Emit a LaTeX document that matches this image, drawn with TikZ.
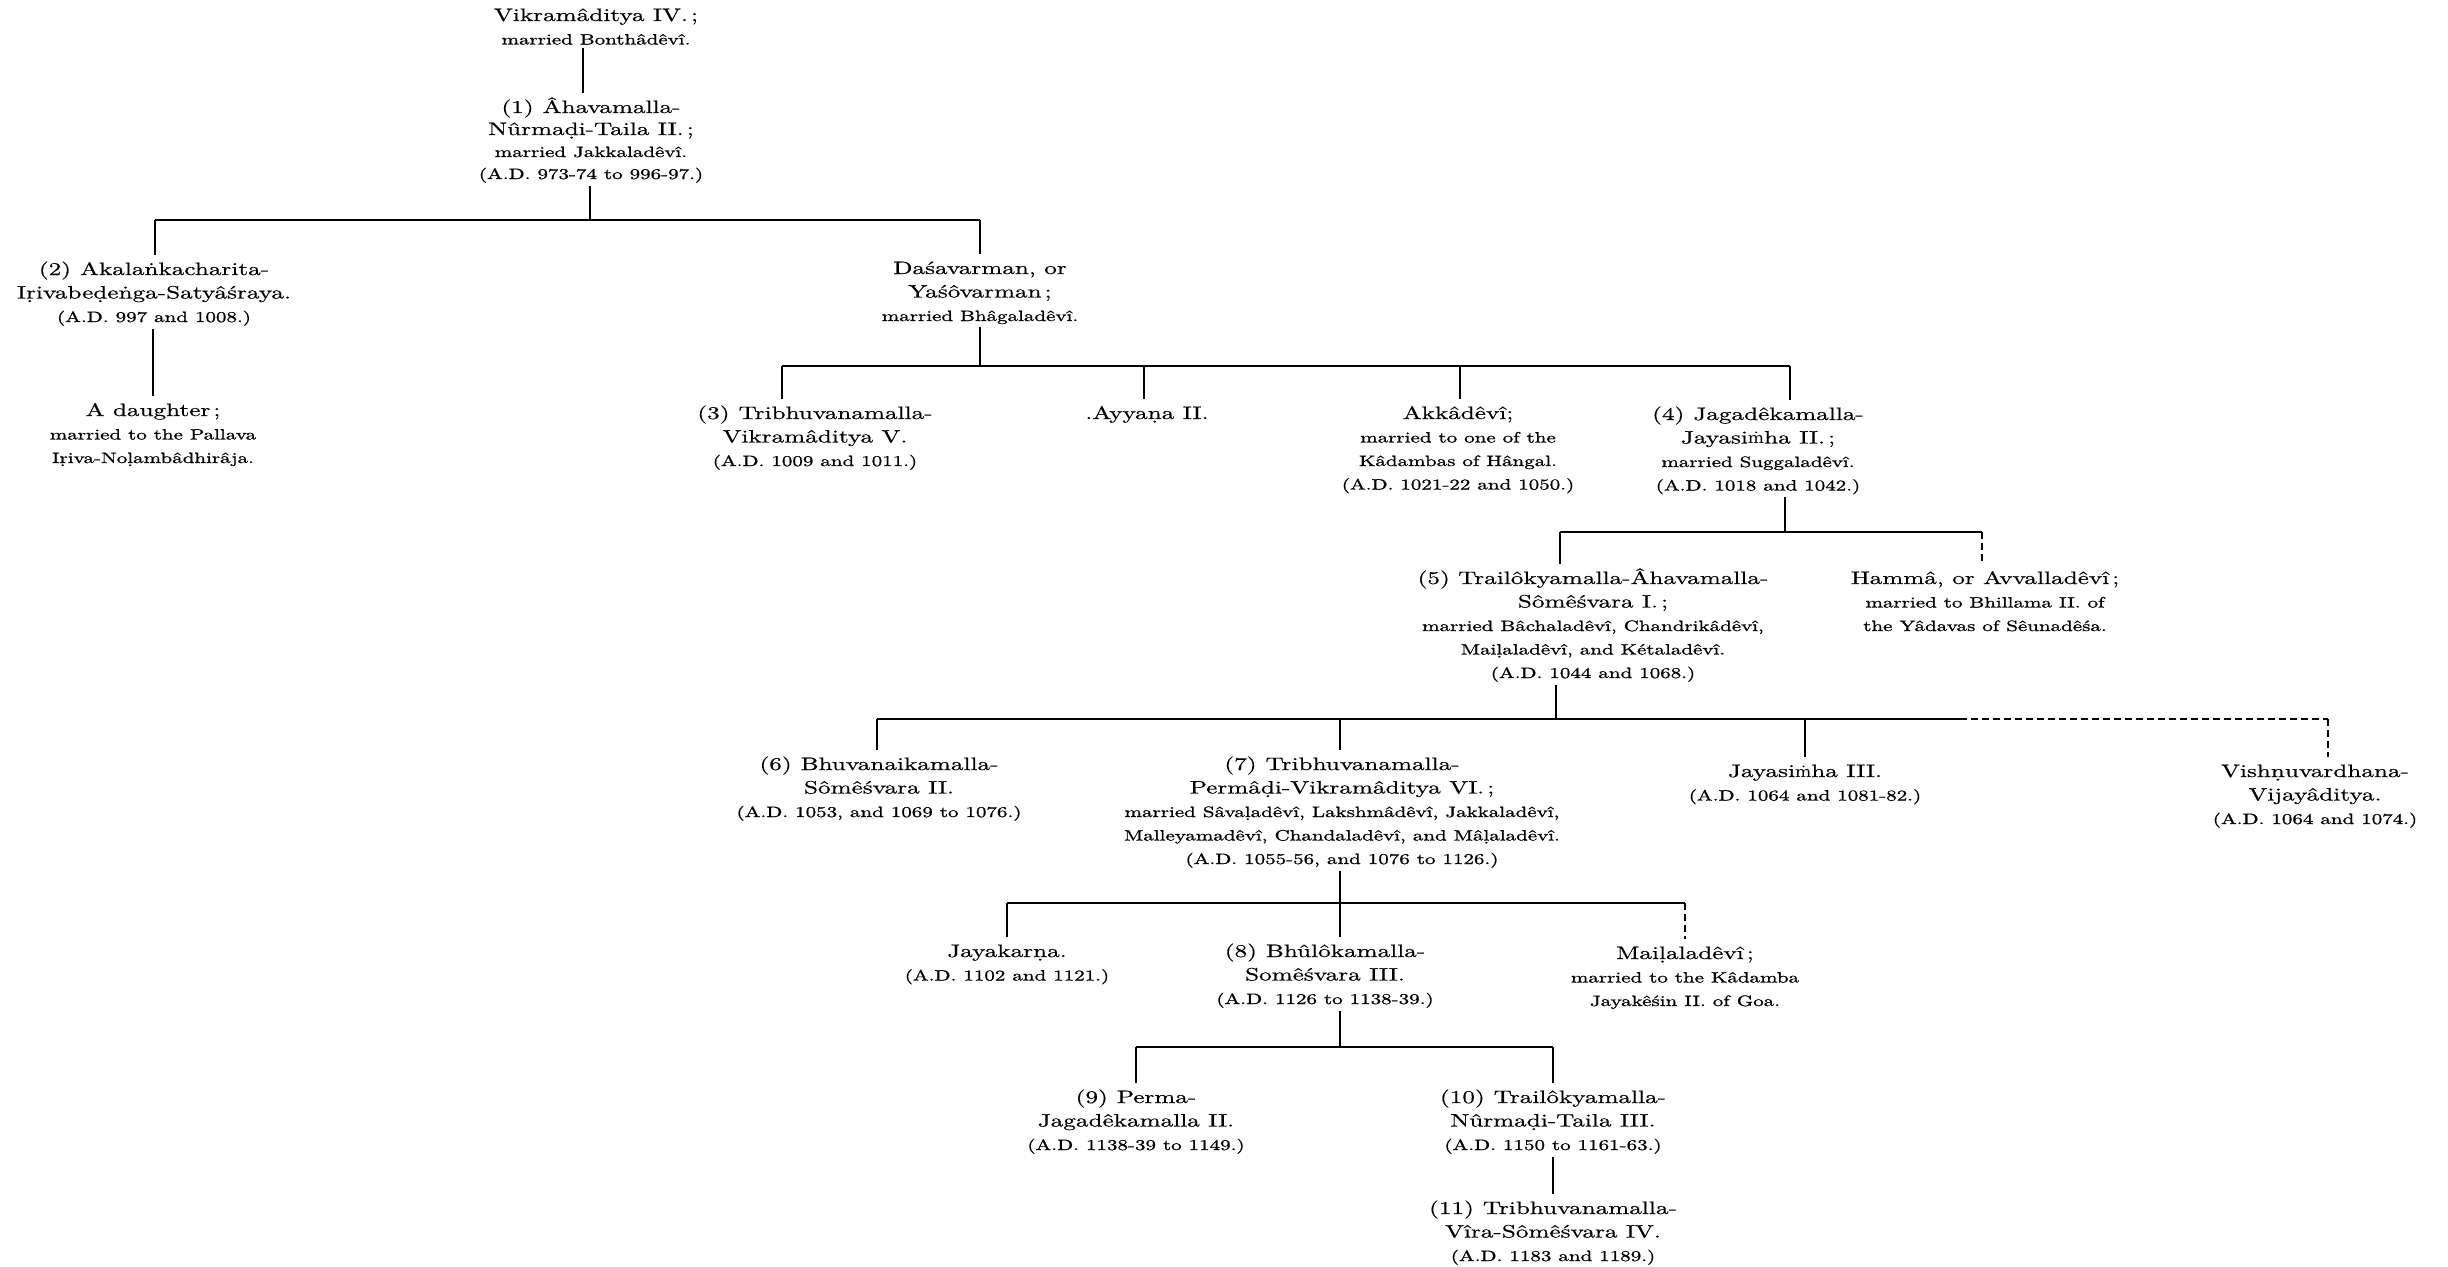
\documentclass[tikz,border=0pt]{standalone}
\usepackage{fontspec}
\setmainfont{lmroman10-regular.otf}[FakeStretch=1.4, FakeBold=0.5]
\newfontfamily\smfam{lmroman10-regular.otf}[FakeStretch=1.4, FakeBold=1.1]
\newfontfamily\dvfam{DejaVu Serif}[Scale=0.83, FakeStretch=1.15]
\newcommand\sm{\smfam\fontsize{15}{23.5}\selectfont}
\newcommand\mdot{{\dvfam ṁ}}
\newcommand\fst{\rule{0pt}{17pt}}
\tikzset{
  person/.style={align=center, inner sep=0pt, outer sep=3pt, anchor=north,
    font=\fontsize{18}{23.5}\selectfont},
  link/.style={line width=1.7pt, line cap=butt},
  faint/.style={line width=1.1pt, dash pattern=on 7pt off 4pt}
}
\begin{document}
\begin{tikzpicture}[x=1pt,y=-1pt]
\useasboundingbox (0,0) rectangle (2448,1266);
\fill[white] (0,0) rectangle (2448,1266);

% ---- persons ----
\node[person] (v4) at (596,1) {\fst Vikramâditya IV.\,;\\ {\sm married Bonthâdêvî.}};
\node[person, font=\fontsize{18}{22}\selectfont] (t1) at (591,93) {\fst (1)\enspace Âhavamalla-\\ Nûrmaḍi-Taila II.\,;\\ {\sm married Jakkaladêvî.}\\ {\sm (A.D. 973-74 to 996-97.)}};
\node[person] (n2) at (154,255) {\fst (2)\enspace Akalaṅkacharita-\\ Iṛivabeḍeṅga-Satyâśraya.\\ {\sm (A.D. 997 and 1008.)}};
\node[person] (dau) at (153,396) {\fst A daughter\,;\\ {\sm married to the Pallava}\\ {\sm Iṛiva-Noḷambâdhirâja.}};
\node[person] (das) at (980,254) {\fst Daśavarman, or\\ Yaśôvarman\,;\\ {\sm married Bhâgaladêvî.}};
\node[person] (n3) at (815,399) {\fst (3)\enspace Tribhuvanamalla-\\ Vikramâditya V.\\ {\sm (A.D. 1009 and 1011.)}};
\node[person] (ayy) at (1147,399) {\fst .Ayyaṇa II.};
\node[person] (akk) at (1458,399) {\fst Akkâdêvî;\\ {\sm married to one of the}\\ {\sm Kâdambas of Hângal.}\\ {\sm (A.D. 1021-22 and 1050.)}};
\node[person] (n4) at (1758,400) {\fst (4)\enspace Jagadêkamalla-\\ Jayasi\mdot ha II.\,;\\ {\sm married Suggaladêvî.}\\ {\sm (A.D. 1018 and 1042.)}};
\node[person] (n5) at (1593,564) {\fst (5) Trailôkyamalla-Âhavamalla-\\ Sômêśvara I.\,;\\ {\sm married Bâchaladêvî, Chandrikâdêvî,}\\ {\sm Maiḷaladêvî, and Kétaladêvî.}\\ {\sm (A.D. 1044 and 1068.)}};
\node[person] (ham) at (1985,564) {\fst Hammâ, or Avvalladêvî\,;\\ {\sm married to Bhillama II. of}\\ {\sm the Yâdavas of Sêunadêśa.}};
\node[person] (n6) at (879,750) {\fst (6)\enspace Bhuvanaikamalla-\\ Sômêśvara II.\\ {\sm (A.D. 1053, and 1069 to 1076.)}};
\node[person] (n7) at (1342,750) {\fst (7)\enspace Tribhuvanamalla-\\ Permâḍi-Vikramâditya VI.\,;\\ {\sm married Sâvaḷadêvî, Lakshmâdêvî, Jakkaladêvî,}\\ {\sm Malleyamadêvî, Chandaladêvî, and Mâḷaladêvî.}\\ {\sm (A.D. 1055-56, and 1076 to 1126.)}};
\node[person] (jay3) at (1805,757) {\fst Jayasi\mdot ha III.\\ {\sm (A.D. 1064 and 1081-82.)}};
\node[person] (vish) at (2315,757) {\fst Vishṇuvardhana-\\ Vijayâditya.\\ {\sm (A.D. 1064 and 1074.)}};
\node[person] (jk) at (1007,937) {\fst Jayakarṇa.\\ {\sm (A.D. 1102 and 1121.)}};
\node[person] (n8) at (1325,937) {\fst (8)\enspace Bhûlôkamalla-\\ Somêśvara III.\\ {\sm (A.D. 1126 to 1138-39.)}};
\node[person] (mai) at (1685,939) {\fst Maiḷaladêvî\,;\\ {\sm married to the Kâdamba}\\ {\sm Jayakêśin II. of Goa.}};
\node[person] (n9) at (1136,1083) {\fst (9)\enspace Perma-\\ Jagadêkamalla II.\\ {\sm (A.D. 1138-39 to 1149.)}};
\node[person] (n10) at (1553,1083) {\fst (10)\enspace Trailôkyamalla-\\ Nûrmaḍi-Taila III.\\ {\sm (A.D. 1150 to 1161-63.)}};
\node[person] (n11) at (1553,1194) {\fst (11)\enspace Tribhuvanamalla-\\ Vîra-Sômêśvara IV.\\ {\sm (A.D. 1183 and 1189.)}};

% ---- junction coordinates ----
\coordinate (l0) at (583,0);
\coordinate (p1) at (590,220);
\coordinate (b1L) at (155,220);
\coordinate (b1R) at (980,220);
\coordinate (l2) at (153,0);
\coordinate (c3) at (782,366);
\coordinate (cA) at (1144,366);
\coordinate (cK) at (1460,366);
\coordinate (c4) at (1790,366);
\coordinate (p4) at (1785,532);
\coordinate (c5) at (1560,532);
\coordinate (cH) at (1982,532);
\coordinate (p5) at (1556,719);
\coordinate (c6) at (877,719);
\coordinate (c7) at (1340,719);
\coordinate (cJ) at (1805,719);
\coordinate (b4m) at (1960,719);
\coordinate (cV) at (2328,719);
\coordinate (cJk) at (1007,903);
\coordinate (c8) at (1340,903);
\coordinate (cM) at (1685,903);
\coordinate (c9) at (1136,1047);
\coordinate (c10) at (1553,1047);
\coordinate (p8) at (1340,1047);
\coordinate (l10) at (1553,0);

% ---- connectors ----
\draw[link] (l0 |- v4.south) -- (l0 |- t1.north);
\draw[link] (p1 |- t1.south) -- (p1);
\draw[link] (b1L) -- (b1R);
\draw[link] (b1L) -- (b1L |- n2.north);
\draw[link] (b1R) -- (b1R |- das.north);
\draw[link] (l2 |- n2.south) -- (l2 |- dau.north);

\draw[link] (das.south -| b1R) -- (b1R |- c3);
\draw[link] (c3) -- (c4);
\draw[link] (c3) -- (c3 |- n3.north);
\draw[link] (cA) -- (cA |- ayy.north);
\draw[link] (cK) -- (cK |- akk.north);
\draw[link] (c4) -- (c4 |- n4.north);

\draw[link] (p4 |- n4.south) -- (p4);
\draw[link] (c5) -- (cH);
\draw[link] (c5) -- (c5 |- n5.north);
\draw[faint] (cH) -- (cH |- ham.north);

\draw[link] (p5 |- n5.south) -- (p5);
\draw[link] (c6) -- (b4m);
\draw[faint] (b4m) -- (cV);
\draw[link] (c6) -- (c6 |- n6.north);
\draw[link] (c7) -- (c7 |- n7.north);
\draw[link] (cJ) -- (cJ |- jay3.north);
\draw[faint] (cV) -- (cV |- vish.north);

\draw[link] (c8 |- n7.south) -- (c8);
\draw[link] (cJk) -- (cM);
\draw[link] (cJk) -- (cJk |- jk.north);
\draw[link] (c8) -- (c8 |- n8.north);
\draw[faint] (cM) -- (cM |- mai.north);

\draw[link] (p8 |- n8.south) -- (p8);
\draw[link] (c9) -- (c10);
\draw[link] (c9) -- (c9 |- n9.north);
\draw[link] (c10) -- (c10 |- n10.north);
\draw[link] (l10 |- n10.south) -- (l10 |- n11.north);
\end{tikzpicture}
\end{document}
